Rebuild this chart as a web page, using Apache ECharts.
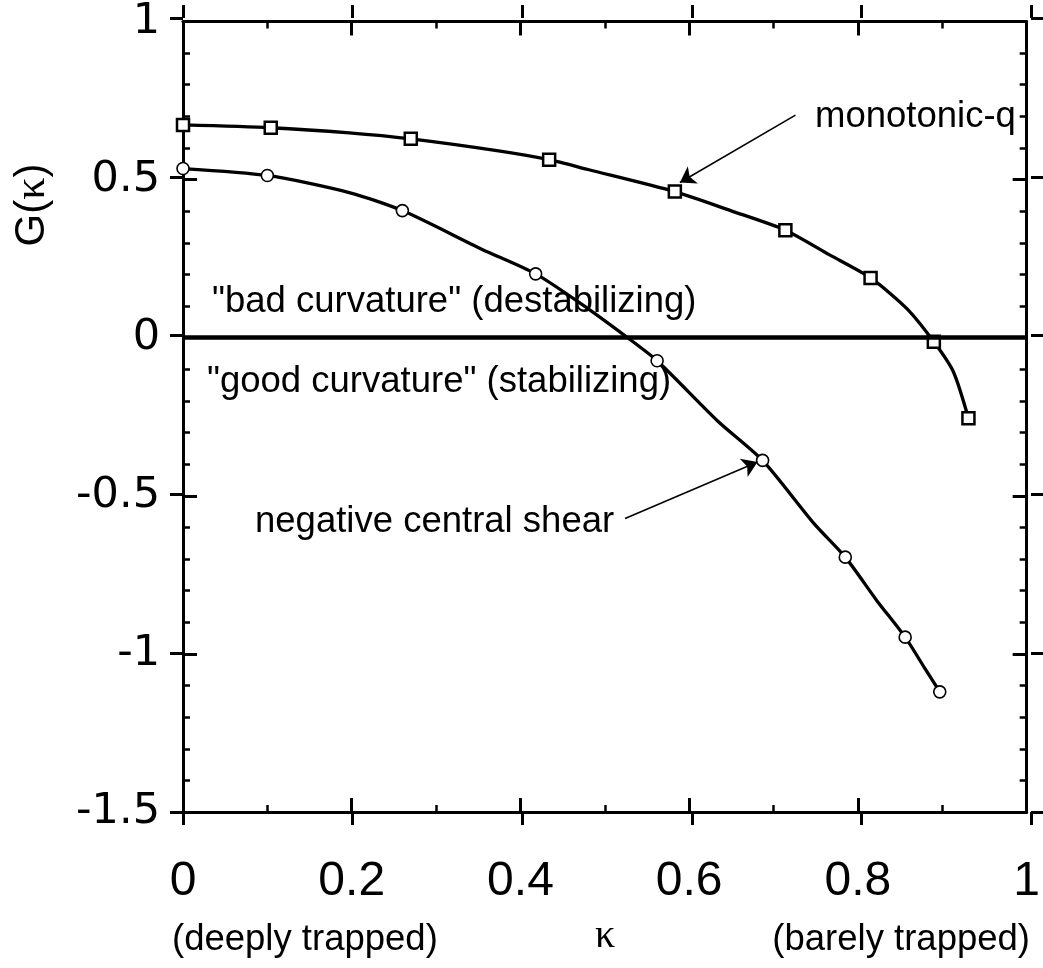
<!DOCTYPE html>
<html>
<head>
<meta charset="utf-8">
<script src="https://cdn.jsdelivr.net/npm/echarts@6/dist/echarts.min.js"></script>
<style>
  html, body { margin: 0; padding: 0; background: #ffffff; }
  #chart { width: 1043px; height: 968px; }
</style>
</head>
<body>
<div id="chart"></div>
<script>
// Tick labels
const xTickValues = [0, 0.2, 0.4, 0.6, 0.8, 1];
const xTickLabels = ['0', '0.2', '0.4', '0.6', '0.8', '1'];
const yTickValues = [-1.5, -1, -0.5, 0, 0.5, 1];
const yTickLabels = ['-1.5', '-1', '-0.5', '0', '0.5', '1'];

// monotonic-q: marked samples (squares) and extra samples along the curve
const monoMarkKappa = [0, 0.104, 0.270, 0.434, 0.583, 0.714, 0.815, 0.890, 0.931];
const monoMarkG     = [0.673, 0.664, 0.629, 0.563, 0.462, 0.340, 0.189, -0.013, -0.255];
const monoCurveKappa = [0.197, 0.374, 0.480, 0.649, 0.767, 0.858, 0.913];
const monoCurveG     = [0.648, 0.591, 0.532, 0.402, 0.261, 0.092, -0.107];

// negative central shear: marked samples (circles) and extra samples along the curve
const ncsMarkKappa = [0, 0.100, 0.260, 0.418, 0.562, 0.687, 0.785, 0.856, 0.897];
const ncsMarkG     = [0.535, 0.513, 0.402, 0.202, -0.073, -0.388, -0.694, -0.947, -1.120];
const ncsCurveKappa = [0.197, 0.354, 0.472, 0.527, 0.634, 0.748, 0.822, 0.878];
const ncsCurveG     = [0.459, 0.280, 0.107, 0.000, -0.264, -0.588, -0.830, -1.040];

// Annotation arrows: [tail kappa, tail G, head kappa, head G]
const monoArrow = [0.726, 0.704, 0.589, 0.491];
const ncsArrow  = [0.524, -0.572, 0.681, -0.393];

function pairs(xs, ys) { return xs.map((x, i) => [x, ys[i]]); }
function curve(mx, my, cx, cy) {
  return pairs(mx, my).concat(pairs(cx, cy)).sort((a, b) => a[0] - b[0]);
}
function lookup(vals, labels) {
  return v => {
    const i = vals.findIndex(t => Math.abs(t - v) < 1e-9);
    return i >= 0 ? labels[i] : '';
  };
}

const SANS = '"Liberation Sans", Arial, Helvetica, sans-serif';
const SERIF = '"Liberation Serif", "DejaVu Serif", serif';
const BLACK = '#000000';

// Grid 0 carries the frame, inward ticks, labels and data;
// grid 1 (same box) only adds the outward half of the major ticks.
function xAx(gridIndex, position, inside, withLabels) {
  return {
    type: 'value', gridIndex: gridIndex, position: position, min: 0, max: 1, interval: 0.2,
    axisLine: { show: inside, onZero: false, lineStyle: { color: BLACK, width: 3 } },
    axisTick: { show: true, inside: inside, length: inside ? 14 : 13, lineStyle: { color: BLACK, width: 3 } },
    minorTick: { show: inside, splitNumber: 2, length: 7, lineStyle: { color: BLACK, width: 2.5 } },
    splitLine: { show: false },
    axisLabel: {
      show: withLabels, margin: 46, color: BLACK, fontSize: 48, fontFamily: SANS,
      formatter: lookup(xTickValues, xTickLabels)
    }
  };
}
function yAx(gridIndex, position, inside, withLabels) {
  return {
    type: 'value', gridIndex: gridIndex, position: position, min: -1.5, max: 1, interval: 0.5,
    axisLine: { show: inside, onZero: false, lineStyle: { color: BLACK, width: 3 } },
    axisTick: { show: true, inside: inside, length: inside ? 14 : 13, lineStyle: { color: BLACK, width: 3 } },
    minorTick: { show: inside, splitNumber: 5, length: 7, lineStyle: { color: BLACK, width: 2.5 } },
    splitLine: { show: false },
    axisLabel: {
      show: withLabels, margin: 23, color: BLACK, fontSize: 43, fontFamily: '"DejaVu Sans", sans-serif',
      formatter: lookup(yTickValues, yTickLabels)
    }
  };
}

const chart = echarts.init(document.getElementById('chart'), null, { renderer: 'canvas' });

const textStyle = (extra) => Object.assign({ fill: BLACK, font: '36.5px ' + SANS, textVerticalAlign: 'middle' }, extra);
const box = { left: 183, right: 12, top: 18, bottom: 156, containLabel: false };

chart.setOption({
  animation: false,
  backgroundColor: '#ffffff',
  grid: [Object.assign({}, box), Object.assign({}, box)],
  xAxis: [
    xAx(0, 'bottom', true, true), xAx(0, 'top', true, false),
    xAx(1, 'bottom', false, false), xAx(1, 'top', false, false)
  ],
  yAxis: [
    yAx(0, 'left', true, true), yAx(0, 'right', true, false),
    yAx(1, 'left', false, false), yAx(1, 'right', false, false)
  ],
  series: [
    {
      name: 'monotonic-q', type: 'line', xAxisIndex: 0, yAxisIndex: 0,
      data: curve(monoMarkKappa, monoMarkG, monoCurveKappa, monoCurveG),
      smooth: 0.25, showSymbol: false, lineStyle: { color: BLACK, width: 3.3 }, z: 3,
      markLine: {
        silent: true, symbol: ['none', 'none'], label: { show: false },
        lineStyle: { color: BLACK, width: 4.5, type: 'solid' },
        data: [{ yAxis: 0 }]
      }
    },
    {
      name: 'negative central shear', type: 'line', xAxisIndex: 0, yAxisIndex: 0,
      data: curve(ncsMarkKappa, ncsMarkG, ncsCurveKappa, ncsCurveG),
      smooth: 0.25, showSymbol: false, lineStyle: { color: BLACK, width: 3.3 }, z: 3,
      markLine: {
        silent: true, symbol: ['none', 'arrow'], symbolSize: 15, label: { show: false },
        lineStyle: { color: BLACK, width: 1.6, type: 'solid' },
        data: [
          [{ coord: [monoArrow[0], monoArrow[1]] }, { coord: [monoArrow[2], monoArrow[3]] }],
          [{ coord: [ncsArrow[0], ncsArrow[1]] }, { coord: [ncsArrow[2], ncsArrow[3]] }]
        ]
      }
    },
    {
      name: 'monotonic-q markers', type: 'scatter', xAxisIndex: 0, yAxisIndex: 0,
      data: pairs(monoMarkKappa, monoMarkG),
      symbol: 'rect', symbolSize: 12, z: 4,
      itemStyle: { color: '#ffffff', opacity: 1, borderColor: BLACK, borderWidth: 2.5 }
    },
    {
      name: 'ncs markers', type: 'scatter', xAxisIndex: 0, yAxisIndex: 0,
      data: pairs(ncsMarkKappa, ncsMarkG),
      symbol: 'circle', symbolSize: 12, z: 4,
      itemStyle: { color: '#ffffff', opacity: 1, borderColor: BLACK, borderWidth: 1.6 }
    }
  ],
  graphic: [
    { type: 'text', left: 815, top: 98, z: 10, style: textStyle({ text: 'monotonic-q', textVerticalAlign: 'top' }) },
    { type: 'text', x: 212, y: 302, z: 10, style: textStyle({ text: '"bad curvature" (destabilizing)' }) },
    { type: 'text', x: 207, y: 382, z: 10, style: textStyle({ text: '"good curvature" (stabilizing)' }) },
    { type: 'text', x: 255, y: 522, z: 10, style: textStyle({ text: 'negative central shear' }) },
    { type: 'text', x: 172, y: 940, z: 10, style: textStyle({ text: '(deeply trapped)' }) },
    { type: 'text', x: 1030, y: 940, z: 10, style: textStyle({ text: '(barely trapped)', textAlign: 'right' }) },
    { type: 'text', x: 605, y: 936, z: 10, style: { text: 'κ', fill: BLACK, font: '40px ' + SERIF, textAlign: 'center', textVerticalAlign: 'middle' } },
    {
      type: 'text', x: 32, y: 205, rotation: Math.PI / 2, z: 10,
      style: {
        text: '{a|G(}{k|κ}{a|)}', textAlign: 'center', textVerticalAlign: 'middle',
        rich: {
          a: { fontSize: 42, fontFamily: SANS, fill: BLACK, color: BLACK },
          k: { fontSize: 44, fontFamily: SERIF, fill: BLACK, color: BLACK }
        }
      }
    }
  ]
});
</script>
</body>
</html>
